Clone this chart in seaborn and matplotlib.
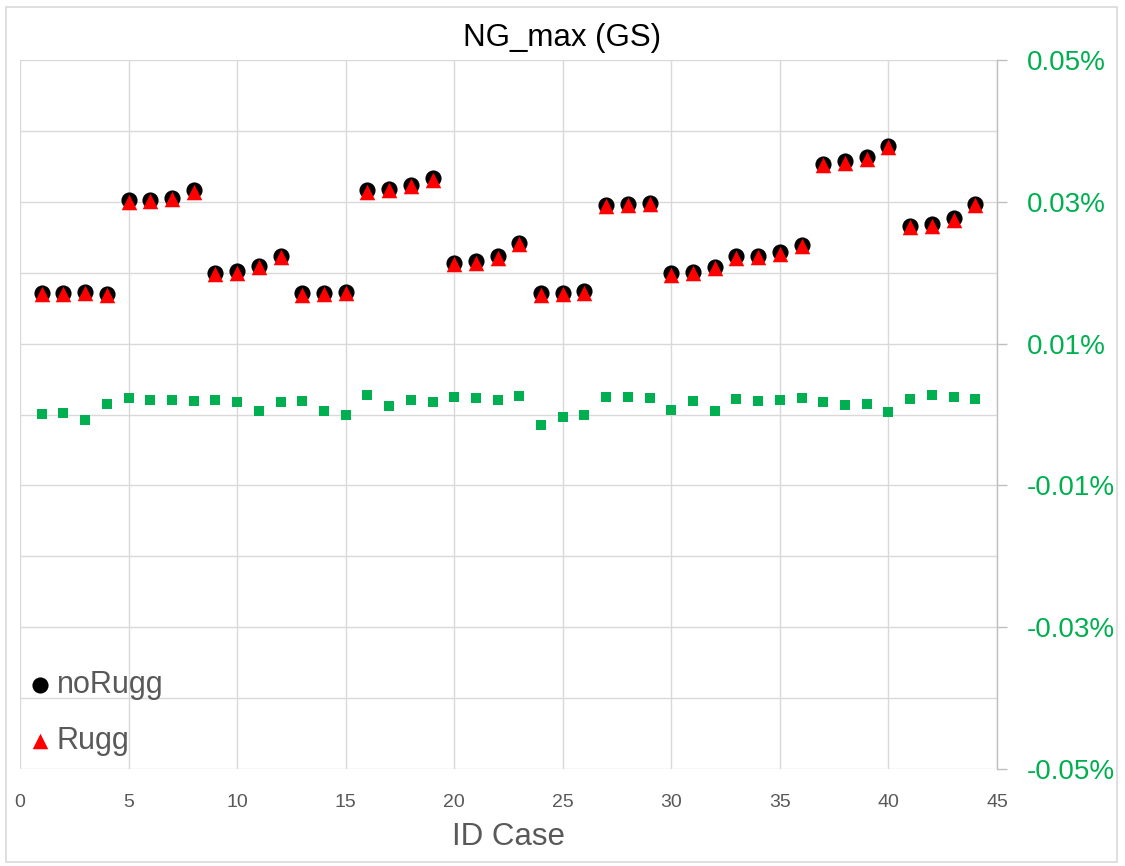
import matplotlib
matplotlib.use("Agg")
import matplotlib.pyplot as plt
from matplotlib.patches import Rectangle
from matplotlib.ticker import FixedLocator, FuncFormatter
import numpy as np
import pandas as pd
import seaborn as sns

# ---------------- data ----------------
id_case = list(range(1, 45))
no_rugg = [0.0172, 0.0172, 0.0173, 0.0170, 0.0302, 0.0303, 0.0306, 0.0316,
           0.0200, 0.0202, 0.0210, 0.0224, 0.0171, 0.0172, 0.0173, 0.0316,
           0.0318, 0.0324, 0.0333, 0.0214, 0.0216, 0.0223, 0.0242, 0.0171,
           0.0172, 0.0174, 0.0296, 0.0297, 0.0299, 0.0199, 0.0201, 0.0208,
           0.0223, 0.0224, 0.0229, 0.0239, 0.0354, 0.0357, 0.0363, 0.0379,
           0.0266, 0.0268, 0.0277, 0.0297]
rugg = [0.0170, 0.0170, 0.0171, 0.0168, 0.0300, 0.0301, 0.0304, 0.0314,
        0.0198, 0.0200, 0.0208, 0.0222, 0.0169, 0.0170, 0.0171, 0.0314,
        0.0316, 0.0322, 0.0331, 0.0212, 0.0214, 0.0221, 0.0240, 0.0169,
        0.0170, 0.0172, 0.0294, 0.0295, 0.0297, 0.0197, 0.0199, 0.0206,
        0.0221, 0.0222, 0.0227, 0.0237, 0.0352, 0.0355, 0.0361, 0.0377,
        0.0264, 0.0266, 0.0275, 0.0295]
diff = [0.0001, 0.0002, -0.0008, 0.0015, 0.0023, 0.0020, 0.0021, 0.0019,
        0.0020, 0.0018, 0.0005, 0.0018, 0.0019, 0.0005, 0.0000, 0.0027,
        0.0012, 0.0020, 0.0018, 0.0024, 0.0023, 0.0021, 0.0026, -0.0015,
        -0.0004, -0.0001, 0.0024, 0.0025, 0.0023, 0.0006, 0.0019, 0.0005,
        0.0022, 0.0019, 0.0021, 0.0023, 0.0017, 0.0013, 0.0015, 0.0004,
        0.0022, 0.0027, 0.0024, 0.0022]
x_ticks = [0, 5, 10, 15, 20, 25, 30, 35, 40, 45]
y_major = [-0.05, -0.03, -0.01, 0.01, 0.03, 0.05]
y_minor = [-0.04, -0.02, 0.0, 0.02, 0.04]

df = pd.DataFrame({"ID Case": id_case, "noRugg": no_rugg,
                   "Rugg": rugg, "diff": diff})

# ---------------- style ----------------
sns.set_theme(style="white")
plt.rcParams["font.family"] = ["Liberation Sans", "DejaVu Sans"]

GRID = "#D9D9D9"
TXT = "#595959"
GREEN = "#00B050"

fig = plt.figure(figsize=(11.25, 8.66), dpi=100)
ax = fig.add_axes([20 / 1125, 1 - 769 / 866, 977 / 1125, 709 / 866])

# outer chart border
fig.patches.append(Rectangle((6 / 1125, 4 / 866), 1111 / 1125, 855 / 866,
                             transform=fig.transFigure, fill=False,
                             edgecolor=GRID, linewidth=1.2, zorder=0))

sns.scatterplot(data=df, x="ID Case", y="diff", ax=ax, marker="s",
                color=GREEN, s=55, linewidth=0, zorder=3, legend=False)
sns.scatterplot(data=df, x="ID Case", y="noRugg", ax=ax, marker="o",
                color="black", s=135, linewidth=0, zorder=4, label="noRugg")
sns.scatterplot(data=df, x="ID Case", y="Rugg", ax=ax, marker="^",
                color="#FF0000", s=125, linewidth=0, zorder=5, label="Rugg")

ax.set_xlim(0, 45)
ax.set_ylim(-0.05, 0.05)
ax.xaxis.set_major_locator(FixedLocator(x_ticks))
ax.yaxis.set_major_locator(FixedLocator(y_major))
ax.yaxis.set_minor_locator(FixedLocator(y_minor))
ax.yaxis.tick_right()
ax.yaxis.set_major_formatter(FuncFormatter(lambda v, p: f"{v:.2f}%"))

ax.grid(True, which="major", axis="both", color=GRID, linewidth=1.0, zorder=0)
ax.grid(True, which="minor", axis="y", color=GRID, linewidth=1.0, zorder=0)
ax.set_axisbelow(True)

for s in ["top", "left", "bottom"]:
    ax.spines[s].set_visible(False)
ax.spines["right"].set_color("#BFBFBF")
ax.spines["right"].set_linewidth(1.0)

ax.tick_params(axis="x", length=0, pad=18, labelsize=14, labelcolor=TXT)
ax.tick_params(axis="y", which="major", right=True, left=False, length=7.5,
               width=1.0, color="#BFBFBF", direction="out", pad=14,
               labelsize=20, labelcolor=GREEN)
ax.tick_params(axis="y", which="minor", length=0, right=False, left=False)

ax.set_xlabel("ID Case", fontsize=22.5, color=TXT, labelpad=8)
ax.set_ylabel("")
ax.set_title("")
fig.text(0.5, 1 - 38 / 866, "NG_max (GS)", fontsize=22.5, color="black",
         ha="center", va="center")

leg = ax.legend(loc="lower left", bbox_to_anchor=(-0.017, -0.012), frameon=False,
                fontsize=22, labelcolor=TXT, handletextpad=0.05,
                labelspacing=0.85, markerscale=1.0, handlelength=1.0,
                borderpad=0.2)

fig.savefig("out.png", dpi=100)
